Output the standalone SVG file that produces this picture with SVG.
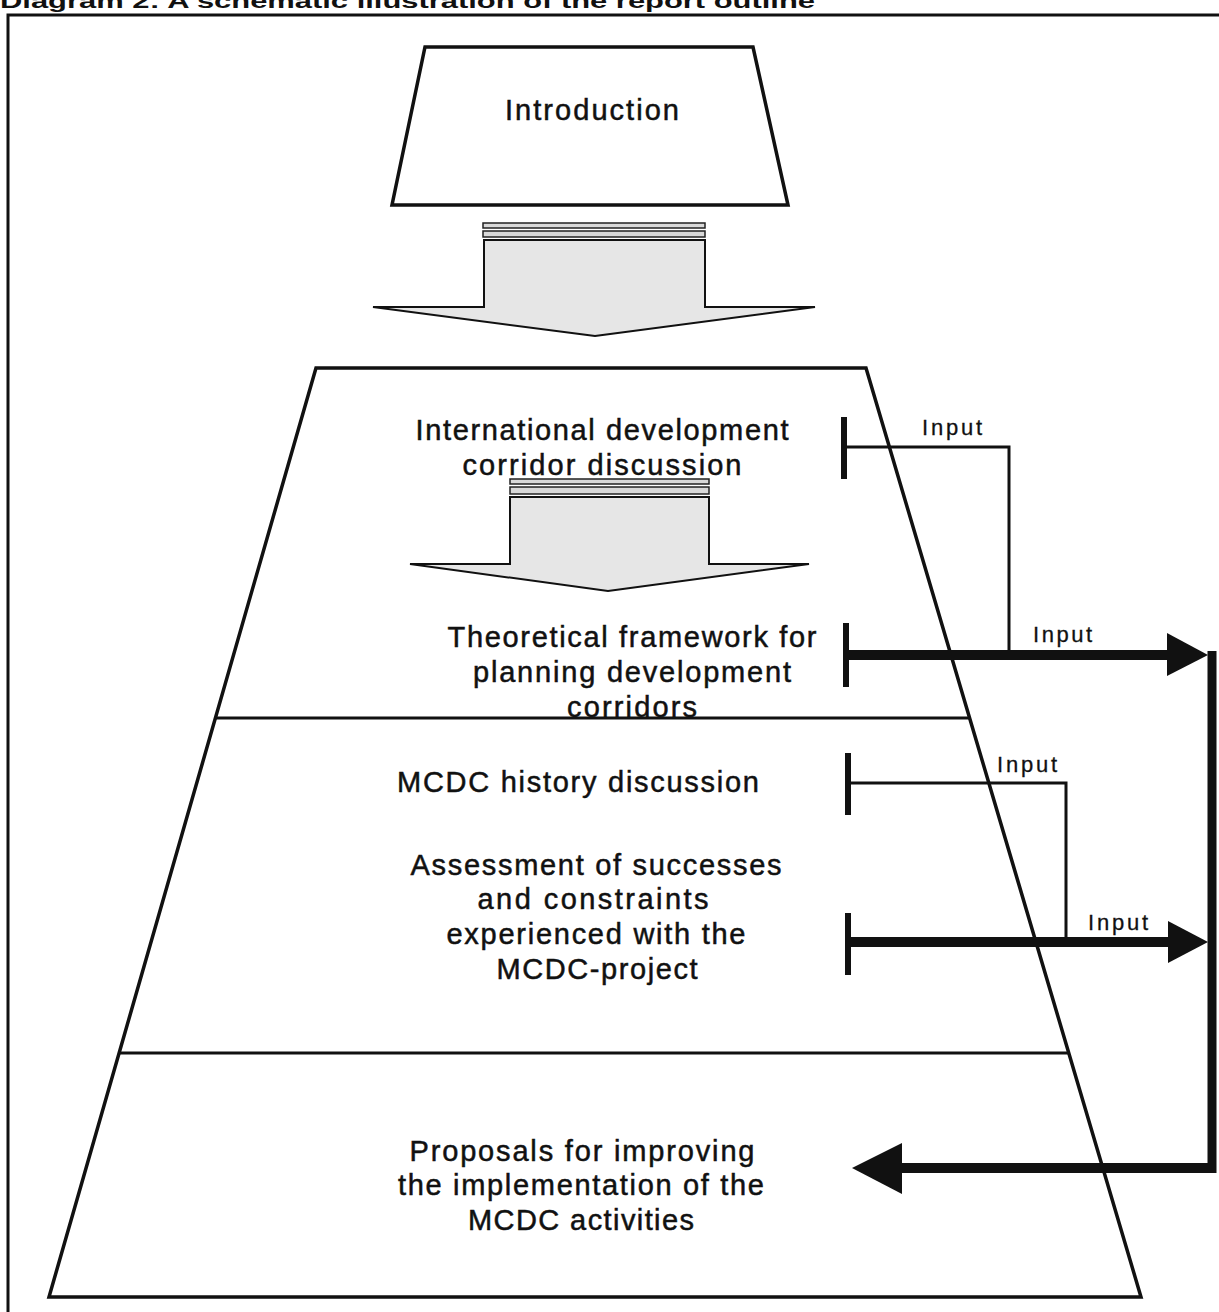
<svg xmlns="http://www.w3.org/2000/svg" width="1219" height="1312" viewBox="0 0 1219 1312">
<style>
text{font-family:"Liberation Sans",Arial,sans-serif;fill:#111}
.lbl{font-size:29px;text-anchor:middle;stroke:#111;stroke-width:0.5}
.inp{font-size:22px;stroke:#111;stroke-width:0.3}
.shape{fill:#fff;stroke:#111;stroke-width:3.5;stroke-linejoin:miter}
.div{stroke:#111;stroke-width:3}
.barrow{fill:#e6e6e6;stroke:#111;stroke-width:2}
.stripe{fill:#d9d9d9;stroke:#222;stroke-width:1.5}
.thin{fill:none;stroke:#111;stroke-width:3}
.thick{fill:none;stroke:#111;stroke-width:10}
.tbar{stroke:#111;stroke-width:6}
.head{fill:#111}
</style>
<rect width="1219" height="1312" fill="#fff"/>
<text x="0" y="8" font-size="21" font-weight="bold" textLength="815" lengthAdjust="spacingAndGlyphs">Diagram 2: A schematic illustration of the report outline</text>
<g id="frame"><path d="M8 1312 V15 H1219" fill="none" stroke="#111" stroke-width="3"/></g>

<g id="pyramid">
<polygon class="shape" points="316,368 866,368 1141,1297 49,1297"/>
<line class="div" x1="215" y1="718" x2="970" y2="718"/>
<line class="div" x1="119" y1="1053" x2="1069" y2="1053"/>
</g>

<g id="introduction">
<polygon class="shape" points="425,47 753,47 788,205 392,205"/>
<text class="lbl" x="592" y="120" textLength="174" lengthAdjust="spacing">Introduction</text>
</g>

<g id="arrow1">
<rect class="stripe" x="483" y="223" width="222" height="5"/>
<rect class="stripe" x="483" y="231" width="222" height="6"/>
<polygon class="barrow" points="484,240 705,240 705,307 815,307 595,336 373,307 484,307"/>
</g>

<g id="intl">
<text class="lbl" x="602" y="440" textLength="373" lengthAdjust="spacing">International development</text>
<text class="lbl" x="602" y="475" textLength="279" lengthAdjust="spacing">corridor discussion</text>
</g>

<g id="arrow2">
<rect class="stripe" x="510" y="479" width="199" height="5"/>
<rect class="stripe" x="510" y="487" width="199" height="7"/>
<polygon class="barrow" points="510,497 709,497 709,564 809,564 608,591 410,564 510,564"/>
</g>

<g id="theory">
<text class="lbl" x="632" y="647" textLength="369" lengthAdjust="spacing">Theoretical framework for</text>
<text class="lbl" x="632" y="682" textLength="318" lengthAdjust="spacing">planning development</text>
<text class="lbl" x="632" y="717" textLength="130" lengthAdjust="spacing">corridors</text>
</g>

<g id="history">
<text class="lbl" x="578" y="792" textLength="362" lengthAdjust="spacing">MCDC history discussion</text>
</g>

<g id="assessment">
<text class="lbl" x="596" y="875" textLength="371" lengthAdjust="spacing">Assessment of successes</text>
<text class="lbl" x="593" y="909" textLength="231" lengthAdjust="spacing">and constraints</text>
<text class="lbl" x="596" y="944" textLength="299" lengthAdjust="spacing">experienced with the</text>
<text class="lbl" x="597" y="979" textLength="201" lengthAdjust="spacing">MCDC-project</text>
</g>

<g id="proposals">
<text class="lbl" x="582" y="1161" textLength="345" lengthAdjust="spacing">Proposals for improving</text>
<text class="lbl" x="581" y="1195" textLength="366" lengthAdjust="spacing">the implementation of the</text>
<text class="lbl" x="581" y="1230" textLength="226" lengthAdjust="spacing">MCDC activities</text>
</g>

<g id="connectors">
<line class="tbar" x1="844" y1="417" x2="844" y2="479"/>
<polyline class="thin" points="846,447 1009,447 1009,655"/>
<text class="inp" x="922" y="435" textLength="60" lengthAdjust="spacing">Input</text>

<line class="tbar" x1="846" y1="623" x2="846" y2="687"/>
<line class="thick" x1="846" y1="655" x2="1172" y2="655"/>
<polygon class="head" points="1167,633 1208,655 1167,676"/>
<text class="inp" x="1033" y="642" textLength="59" lengthAdjust="spacing">Input</text>

<line class="tbar" x1="848" y1="753" x2="848" y2="815"/>
<polyline class="thin" points="850,783 1066,783 1066,942"/>
<text class="inp" x="997" y="772" textLength="60" lengthAdjust="spacing">Input</text>

<line class="tbar" x1="848" y1="913" x2="848" y2="975"/>
<line class="thick" x1="848" y1="942" x2="1172" y2="942"/>
<polygon class="head" points="1168,921 1208,942 1168,963"/>
<text class="inp" x="1088" y="930" textLength="60" lengthAdjust="spacing">Input</text>

<line x1="1212" y1="651" x2="1212" y2="1173" stroke="#111" stroke-width="9"/>
<line class="thick" x1="1216" y1="1168" x2="898" y2="1168"/>
<polygon class="head" points="902,1143 852,1168 902,1194"/>
</g>
</svg>
